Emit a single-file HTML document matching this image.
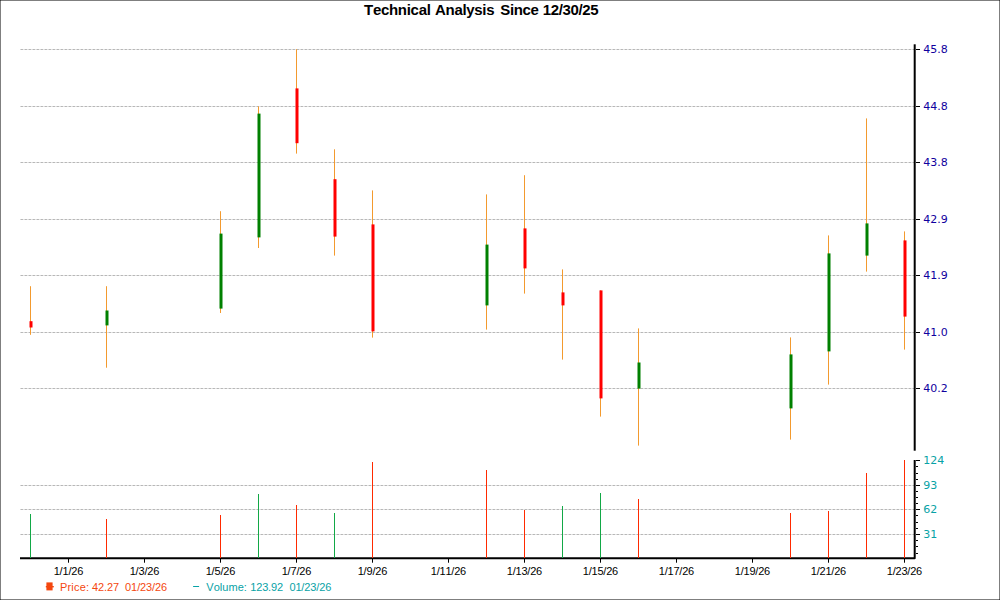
<!DOCTYPE html>
<html lang="en"><head><meta charset="utf-8"><title>Technical Analysis Since 12/30/25</title>
<style>
html,body{margin:0;padding:0;background:#fff;}
body{width:1000px;height:600px;overflow:hidden;position:relative;}
svg{position:absolute;left:0;top:0;display:block;}
.t{font-family:"Liberation Sans",Arial,sans-serif;font-kerning:none;}
.v{font-family:"DejaVu Sans",Verdana,"Liberation Sans",sans-serif;font-size:11px;}
.d{font-size:11px;fill:#000;text-anchor:middle;}
</style></head><body>
<svg width="1000" height="600" viewBox="0 0 1000 600">
<rect x="0" y="0" width="1000" height="600" fill="#ffffff"/>
<g shape-rendering="crispEdges" fill="#000" fill-opacity="0.5">
<rect x="0" y="0" width="1000" height="1"/><rect x="0" y="599" width="1000" height="1"/>
<rect x="0" y="0" width="1" height="600"/><rect x="999" y="0" width="1" height="600"/>
</g>
<defs><pattern id="gd" x="20" y="0" width="4" height="1" patternUnits="userSpaceOnUse"><rect x="0" y="0" width="1" height="1" fill="#d8d8d8"/><rect x="1" y="0" width="1" height="1" fill="#b6b6b6"/><rect x="2" y="0" width="1" height="1" fill="#bababa"/><rect x="3" y="0" width="1" height="1" fill="#e6e6e6"/></pattern></defs>
<g shape-rendering="crispEdges" fill="url(#gd)">
<rect x="20" y="49" width="894" height="1"/>
<rect x="20" y="106" width="894" height="1"/>
<rect x="20" y="162" width="894" height="1"/>
<rect x="20" y="219" width="894" height="1"/>
<rect x="20" y="275" width="894" height="1"/>
<rect x="20" y="332" width="894" height="1"/>
<rect x="20" y="388" width="894" height="1"/>
<rect x="20" y="485" width="894" height="1"/>
<rect x="20" y="509" width="894" height="1"/>
<rect x="20" y="534" width="894" height="1"/>
</g>
<g fill="#f39a2e">
<rect x="30" y="286.2" width="1" height="48.6"/>
<rect x="106" y="286.2" width="1" height="81.5"/>
<rect x="220" y="211.2" width="1" height="101.8"/>
<rect x="258" y="106.4" width="1" height="141.6"/>
<rect x="296" y="49.2" width="1" height="104.4"/>
<rect x="334" y="149.3" width="1" height="106.3"/>
<rect x="372" y="190.4" width="1" height="147.2"/>
<rect x="486" y="194.4" width="1" height="135.2"/>
<rect x="524" y="175.2" width="1" height="118.4"/>
<rect x="562" y="269.4" width="1" height="90.2"/>
<rect x="600" y="290.4" width="1" height="126.2"/>
<rect x="638" y="328.4" width="1" height="117.2"/>
<rect x="790" y="337.4" width="1" height="102.2"/>
<rect x="828" y="235.4" width="1" height="149.2"/>
<rect x="866" y="118.4" width="1" height="153.2"/>
<rect x="904" y="231.4" width="1" height="118.2"/>
</g>
<g>
<rect x="29.5" y="321.2" width="3" height="6.3" fill="#ff0000"/>
<rect x="105.5" y="310.5" width="3" height="14.9" fill="#008000"/>
<rect x="219.5" y="233.6" width="3" height="75.0" fill="#008000"/>
<rect x="257.5" y="113.6" width="3" height="123.8" fill="#008000"/>
<rect x="295.5" y="88.4" width="3" height="54.8" fill="#ff0000"/>
<rect x="333.5" y="179.2" width="3" height="57.4" fill="#ff0000"/>
<rect x="371.5" y="224.4" width="3" height="107.0" fill="#ff0000"/>
<rect x="485.5" y="244.6" width="3" height="60.8" fill="#008000"/>
<rect x="523.5" y="228.4" width="3" height="40.0" fill="#ff0000"/>
<rect x="561.5" y="292.4" width="3" height="13.0" fill="#ff0000"/>
<rect x="599.5" y="290.4" width="3" height="108.0" fill="#ff0000"/>
<rect x="637.5" y="362.5" width="3" height="26.1" fill="#008000"/>
<rect x="789.5" y="354.4" width="3" height="54.0" fill="#008000"/>
<rect x="827.5" y="253.4" width="3" height="98.0" fill="#008000"/>
<rect x="865.5" y="223.4" width="3" height="32.2" fill="#008000"/>
<rect x="903.5" y="240.4" width="3" height="76.2" fill="#ff0000"/>
</g>
<g shape-rendering="crispEdges" fill="#000">
<rect x="913.7" y="44.3" width="2" height="406.4" shape-rendering="auto"/>
<polyline points="914.7,460 914.7,558.3 20,558.3" fill="none" stroke="#000" stroke-width="2" stroke-linejoin="round" shape-rendering="auto"/>
<rect x="916" y="49" width="4" height="1"/>
<rect x="916" y="106" width="4" height="1"/>
<rect x="916" y="162" width="4" height="1"/>
<rect x="916" y="219" width="4" height="1"/>
<rect x="916" y="275" width="4" height="1"/>
<rect x="916" y="332" width="4" height="1"/>
<rect x="916" y="388" width="4" height="1"/>
<rect x="916" y="460" width="4" height="1"/>
<rect x="916" y="485" width="4" height="1"/>
<rect x="916" y="509" width="4" height="1"/>
<rect x="916" y="534" width="4" height="1"/>
<rect x="916" y="466" width="2" height="1"/>
<rect x="916" y="473" width="2" height="1"/>
<rect x="916" y="479" width="2" height="1"/>
<rect x="916" y="491" width="2" height="1"/>
<rect x="916" y="497" width="2" height="1"/>
<rect x="916" y="503" width="2" height="1"/>
<rect x="916" y="515" width="2" height="1"/>
<rect x="916" y="522" width="2" height="1"/>
<rect x="916" y="528" width="2" height="1"/>
<rect x="916" y="540" width="2" height="1"/>
<rect x="916" y="546" width="2" height="1"/>
<rect x="916" y="553" width="2" height="1"/>
<rect x="68" y="559" width="1" height="3.7" shape-rendering="auto"/>
<rect x="144" y="559" width="1" height="3.7" shape-rendering="auto"/>
<rect x="220" y="559" width="1" height="3.7" shape-rendering="auto"/>
<rect x="296" y="559" width="1" height="3.7" shape-rendering="auto"/>
<rect x="372" y="559" width="1" height="3.7" shape-rendering="auto"/>
<rect x="448" y="559" width="1" height="3.7" shape-rendering="auto"/>
<rect x="524" y="559" width="1" height="3.7" shape-rendering="auto"/>
<rect x="600" y="559" width="1" height="3.7" shape-rendering="auto"/>
<rect x="676" y="559" width="1" height="3.7" shape-rendering="auto"/>
<rect x="752" y="559" width="1" height="3.7" shape-rendering="auto"/>
<rect x="828" y="559" width="1" height="3.7" shape-rendering="auto"/>
<rect x="904" y="559" width="1" height="3.7" shape-rendering="auto"/>
</g>
<g shape-rendering="crispEdges">
<rect x="30" y="514" width="1" height="43.9" fill="#12a846"/>
<rect x="106" y="519" width="1" height="38.9" fill="#ff2a00"/>
<rect x="220" y="515" width="1" height="42.9" fill="#ff2a00"/>
<rect x="258" y="494" width="1" height="63.9" fill="#12a846"/>
<rect x="296" y="505" width="1" height="52.9" fill="#ff2a00"/>
<rect x="334" y="513" width="1" height="44.9" fill="#12a846"/>
<rect x="372" y="462" width="1" height="95.9" fill="#ff2a00"/>
<rect x="486" y="470" width="1" height="87.9" fill="#ff2a00"/>
<rect x="524" y="510" width="1" height="47.9" fill="#ff2a00"/>
<rect x="562" y="506" width="1" height="51.9" fill="#12a846"/>
<rect x="600" y="493" width="1" height="64.9" fill="#12a846"/>
<rect x="638" y="499" width="1" height="58.9" fill="#ff2a00"/>
<rect x="790" y="513" width="1" height="44.9" fill="#ff2a00"/>
<rect x="828" y="511" width="1" height="46.9" fill="#ff2a00"/>
<rect x="866" y="473" width="1" height="84.9" fill="#ff2a00"/>
<rect x="904" y="460.3" width="1" height="97.6" fill="#ff2a00"/>
</g>
<g class="v" fill="#10009e">
<text x="923.3" y="53">45.8</text>
<text x="923.3" y="110">44.8</text>
<text x="923.3" y="166">43.8</text>
<text x="923.3" y="223">42.9</text>
<text x="923.3" y="279">41.9</text>
<text x="923.3" y="336">41.0</text>
<text x="923.3" y="392">40.2</text>
</g>
<g class="v" fill="#08a2a6">
<text x="923.3" y="464">124</text>
<text x="923.3" y="489">93</text>
<text x="923.3" y="513">62</text>
<text x="923.3" y="538">31</text>
</g>
<g class="t d" letter-spacing="-0.2">
<text x="68.4" y="575">1/1/26</text>
<text x="144.4" y="575">1/3/26</text>
<text x="220.4" y="575">1/5/26</text>
<text x="296.4" y="575">1/7/26</text>
<text x="372.4" y="575">1/9/26</text>
<text x="448.4" y="575">1/11/26</text>
<text x="524.4" y="575">1/13/26</text>
<text x="600.4" y="575">1/15/26</text>
<text x="676.4" y="575">1/17/26</text>
<text x="752.4" y="575">1/19/26</text>
<text x="828.4" y="575">1/21/26</text>
<text x="904.4" y="575">1/23/26</text>
</g>
<text class="t" y="15" font-size="15" font-weight="bold" fill="#000"><tspan x="364.05" letter-spacing="-0.3">Technical</tspan> <tspan x="435" letter-spacing="-0.31">Analysis</tspan> <tspan x="500.35" letter-spacing="-0.4">Since</tspan> <tspan x="542.85" letter-spacing="-0.39">12/30/25</tspan></text>
<rect x="46.4" y="582.4" width="6.2" height="8" fill="#f4470f"/><rect x="45.8" y="586" width="8" height="1.4" fill="#f4470f"/>
<text class="t" y="591" font-size="11" fill="#f4470f"><tspan x="60" letter-spacing="0.18">Price:</tspan> <tspan x="92" letter-spacing="-0.12">42.27</tspan> <tspan x="125.1" letter-spacing="-0.1">01/23/26</tspan></text>
<rect x="193.1" y="586" width="6" height="1" fill="#08a2a6"/>
<text class="t" y="591" font-size="11" fill="#08a2a6"><tspan x="206.3" letter-spacing="0.03">Volume:</tspan> <tspan x="250.3" letter-spacing="-0.18">123.92</tspan> <tspan x="289.4" letter-spacing="-0.13">01/23/26</tspan></text>
</svg>
</body></html>
